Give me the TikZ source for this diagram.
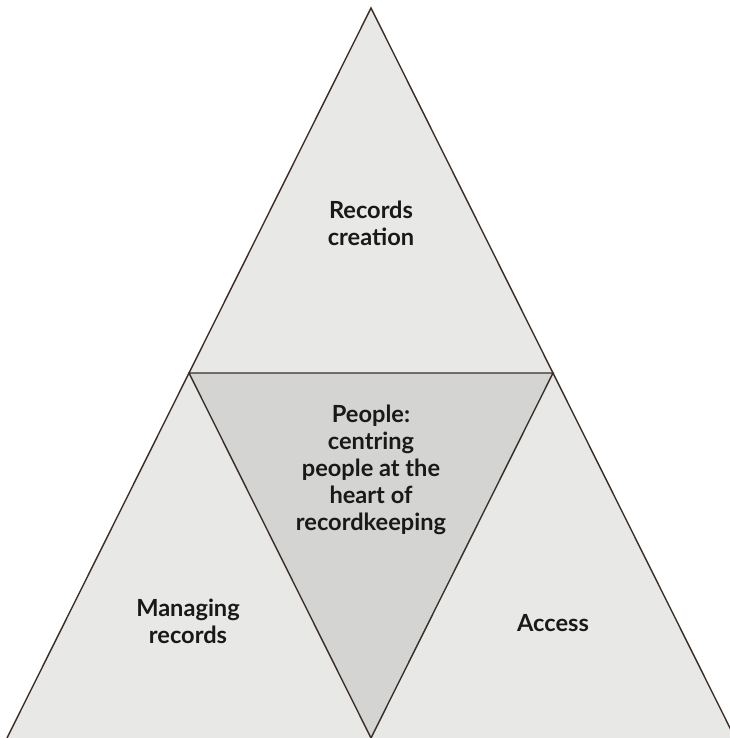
\documentclass[tikz,border=0pt]{standalone}
\usepackage{fontspec}
\setmainfont{Lato}
\definecolor{edgebrown}{HTML}{3A2E28}
\definecolor{outerfill}{HTML}{E8E8E6}
\definecolor{innerfill}{HTML}{D4D4D2}
\begin{document}
\begin{tikzpicture}[
  x=0.5pt, y=-0.5pt,
  part/.style={draw=edgebrown, line width=0.7pt, line join=miter},
  label/.style={align=center, font=\fontsize{11.8}{13.5}\selectfont\bfseries, text=black!90}
]
  \useasboundingbox (0,0) rectangle (729,738);
  % corners of the big triangle and the midpoints of its sides
  \coordinate (top) at (371,8);
  \coordinate (bl) at (7,738);
  \coordinate (br) at (735,738);
  \coordinate (ml) at (189,373);
  \coordinate (mr) at (553,373);
  \coordinate (mb) at (371,738);
  \fill[outerfill] (top) -- (bl) -- (br) -- cycle;
  \filldraw[part, fill=innerfill] (ml) -- (mr) -- (mb) -- cycle;
  \draw[part] (bl) -- (top) -- (br);
  \node[label] (creation) at (371,223) {Records\\creation};
  \node[label] (people) at (371,470) {People:\\centring\\people at the\\heart of\\recordkeeping};
  \node[label] (managing) at (188,621) {Managing\\records};
  \node[label] (access) at (553,623) {Access};
\end{tikzpicture}
\end{document}
